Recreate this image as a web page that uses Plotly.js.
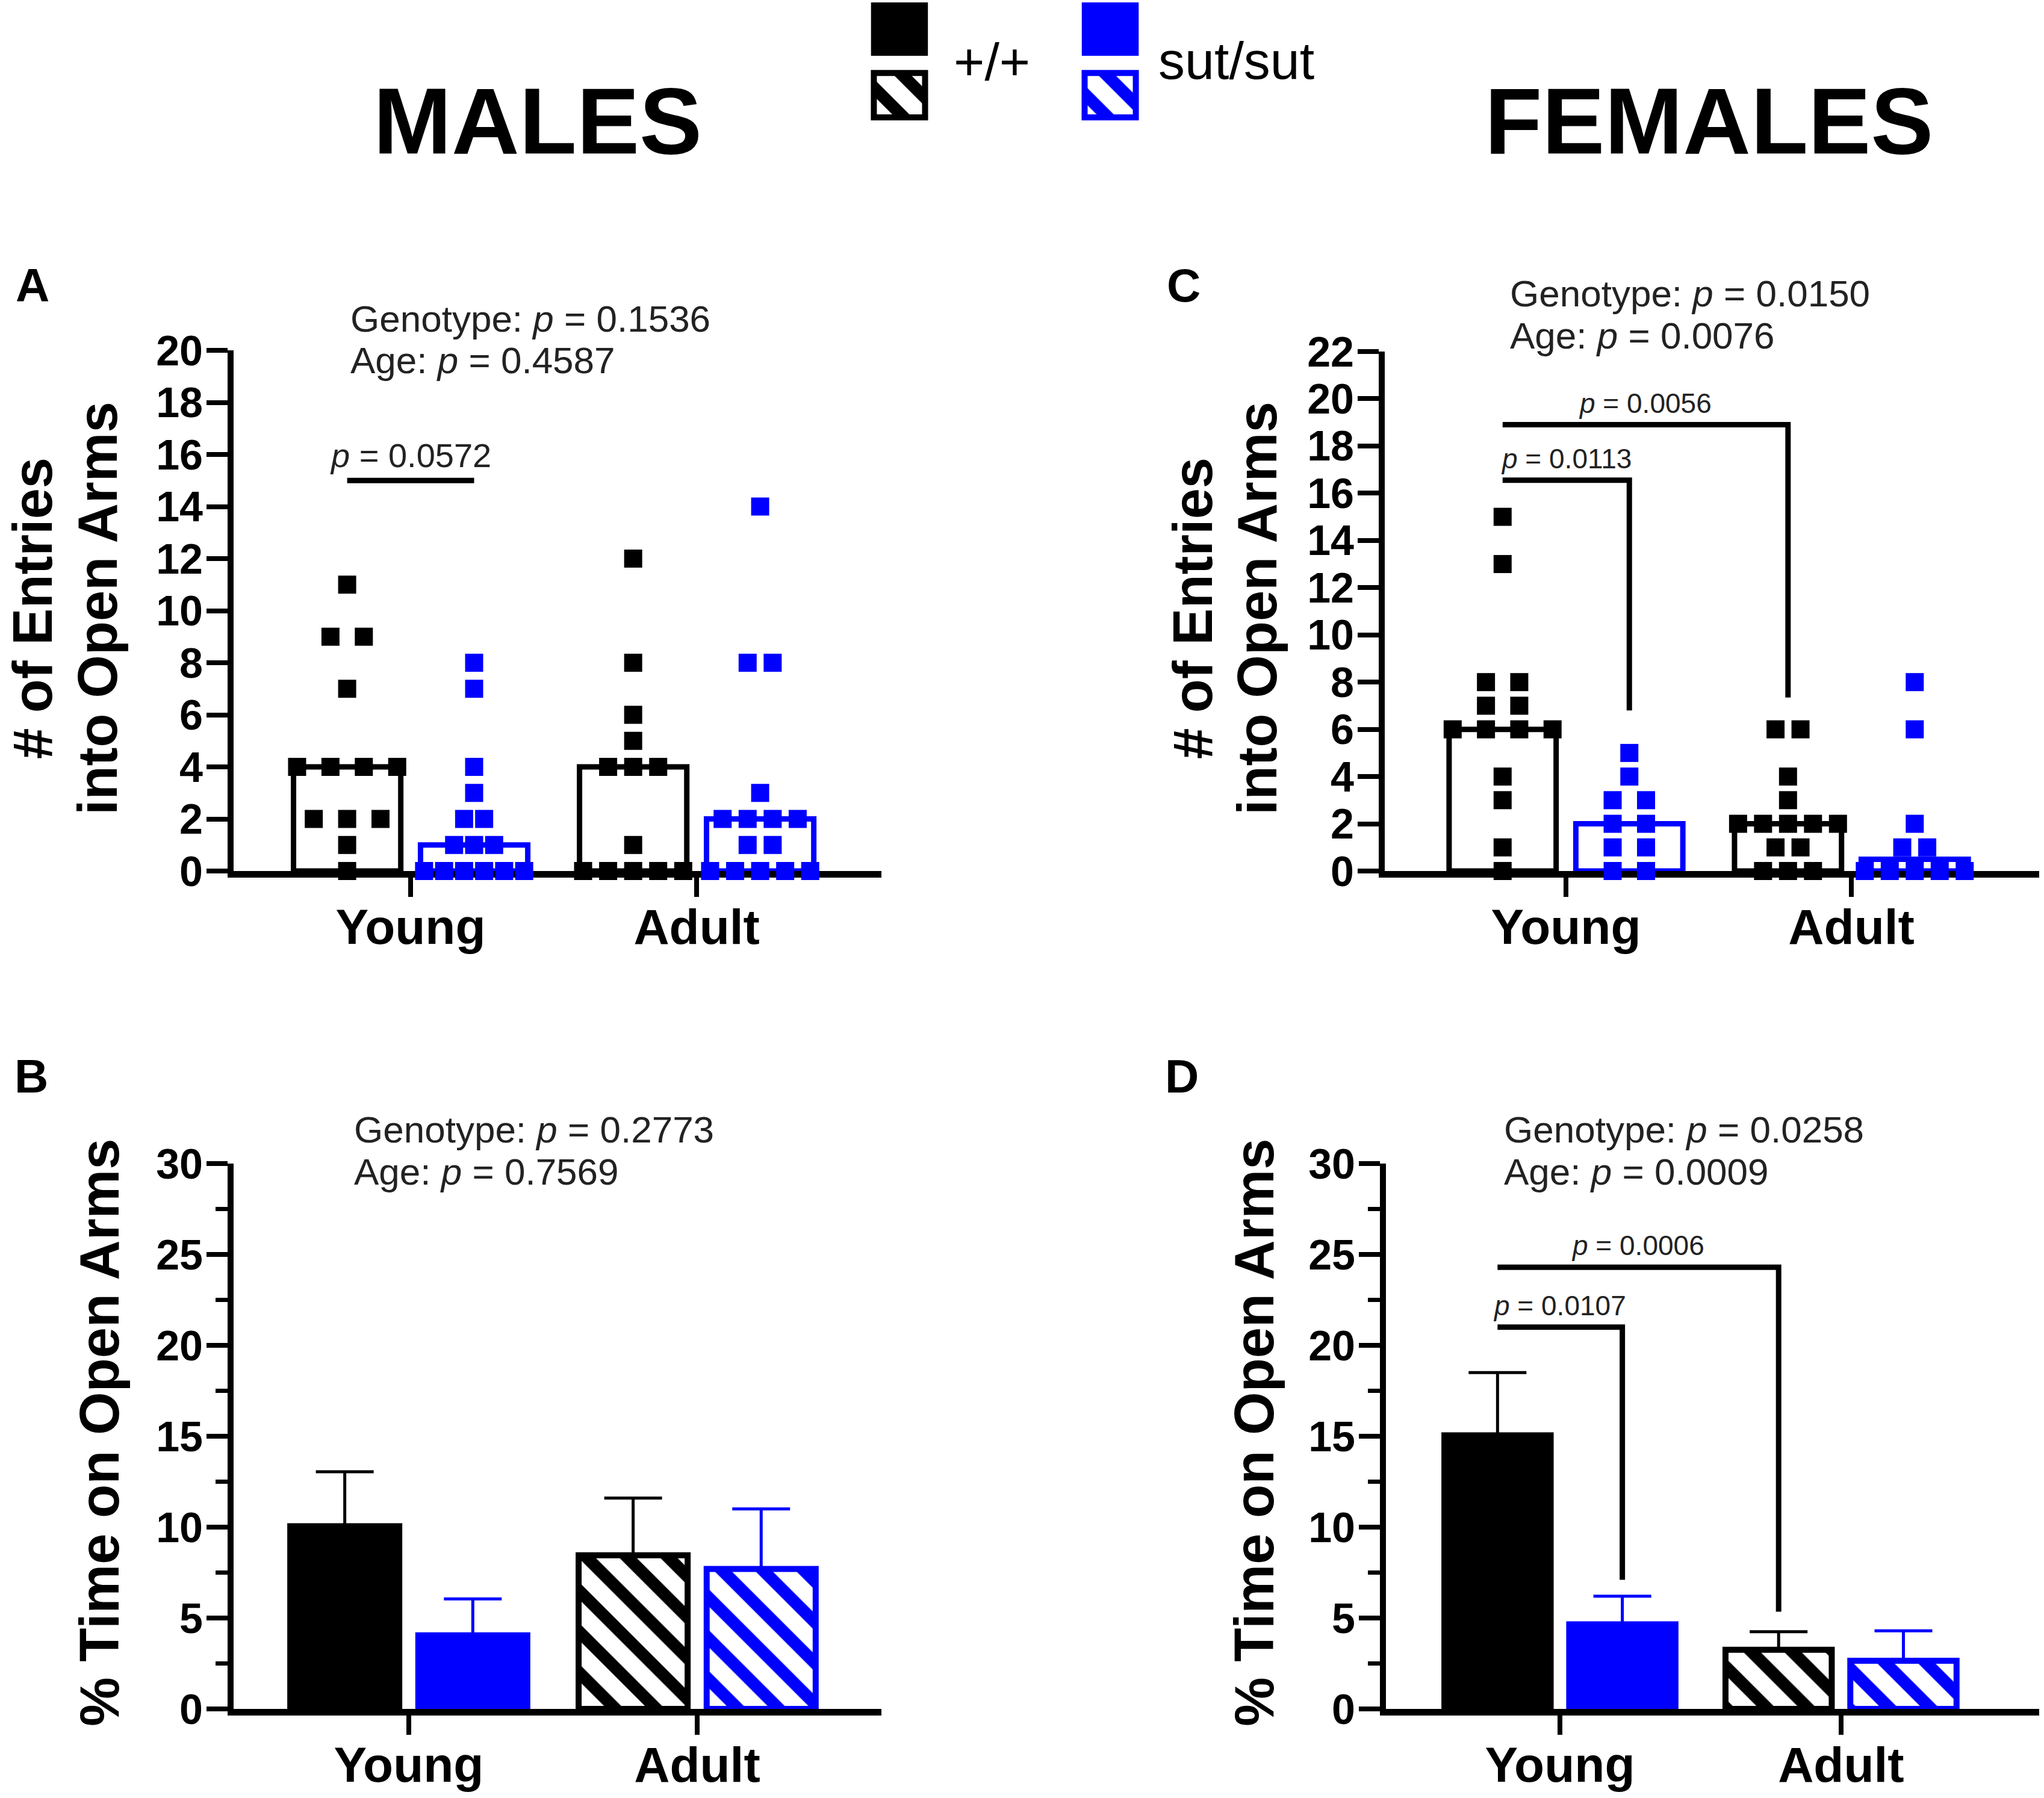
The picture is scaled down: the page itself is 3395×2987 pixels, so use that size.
<!DOCTYPE html>
<html><head><meta charset="utf-8">
<script src="https://cdn.plot.ly/plotly-3.0.1.min.js"></script>
<style>html,body{margin:0;padding:0;background:#fff}</style>
</head><body><div id="chart" style="width:3395px;height:2987px"></div>
<script>
// ---------------- DATA ----------------
const groups = ['Young', 'Adult'];
const genotypes = ['+/+', 'sut/sut'];

// Panel A: males, # of entries into open arms (individual animals)
const maleEntriesWT_Young  = [11, 9, 9, 7, 4, 4, 4, 4, 2, 2, 2, 1, 0];
const maleEntriesSut_Young = [8, 7, 4, 3, 2, 2, 1, 1, 1, 0, 0, 0, 0, 0, 0];
const maleEntriesWT_Adult  = [12, 8, 6, 5, 4, 4, 4, 1, 0, 0, 0, 0, 0];
const maleEntriesSut_Adult = [14, 8, 8, 3, 2, 2, 2, 2, 1, 1, 0, 0, 0, 0, 0];
const maleEntriesMedianWT  = [4, 4];
const maleEntriesMedianSut = [1, 2];

// Panel C: females, # of entries into open arms
const femaleEntriesWT_Young  = [15, 13, 8, 8, 7, 7, 6, 6, 6, 6, 4, 3, 1, 0];
const femaleEntriesSut_Young = [5, 4, 3, 3, 2, 2, 1, 1, 0, 0];
const femaleEntriesWT_Adult  = [6, 6, 4, 3, 2, 2, 2, 2, 2, 1, 1, 0, 0, 0];
const femaleEntriesSut_Adult = [8, 6, 2, 1, 1, 0, 0, 0, 0, 0];
const femaleEntriesMedianWT  = [6, 2];
const femaleEntriesMedianSut = [2, 0.5];

// Panel B: males, % time on open arms (mean, SEM)
const maleTimeMeanWT  = [10.05, 8.45];
const maleTimeSemWT   = [3.0, 3.15];
const maleTimeMeanSut = [4.05, 7.7];
const maleTimeSemSut  = [2.0, 3.3];

// Panel D: females, % time on open arms (mean, SEM)
const femaleTimeMeanWT  = [15.05, 3.25];
const femaleTimeSemWT   = [3.45, 1.0];
const femaleTimeMeanSut = [4.65, 2.65];
const femaleTimeSemSut  = [1.55, 1.65];

// ANOVA main effects
const statsA = {genotype: '0.1536', age: '0.4587'};
const statsB = {genotype: '0.2773', age: '0.7569'};
const statsC = {genotype: '0.0150', age: '0.0076'};
const statsD = {genotype: '0.0258', age: '0.0009'};

// Post-hoc comparisons: [group, genotype] -> [group, genotype], bracket level, drop end, p
const bracketsA = [{from: [0, 0], to: [0, 1], level: 15, end: null, p: '0.0572'}];
const bracketsC = [{from: [0, 0], to: [0, 1], level: 16.55, end: 6.8, p: '0.0113'},
                   {from: [0, 0], to: [1, 0], level: 18.9, end: 7.35, p: '0.0056'}];
const bracketsD = [{from: [0, 0], to: [0, 1], level: 21.0, end: 7.1, p: '0.0107'},
                   {from: [0, 0], to: [1, 0], level: 24.3, end: 5.35, p: '0.0006'}];

// ---------------- STYLE / LAYOUT ----------------
const W = 3395, H = 2987;
const FONT = 'Liberation Sans, Arial, Helvetica, sans-serif';
const COLORS = ['#000000', '#0000ff'];
const OFF = [-0.222, 0.222];
const fx = p => p / W;
const fy = p => 1 - p / H;

const traces = [];
const annotations = [];
const layout = {
  width: W, height: H,
  margin: {l: 0, r: 0, t: 0, b: 0},
  paper_bgcolor: '#ffffff', plot_bgcolor: '#ffffff',
  showlegend: false, barmode: 'overlay',
  font: {family: FONT, color: '#000'},
  annotations: annotations
};

function hatch(color) {
  return {shape: '\\', fgcolor: color, bgcolor: '#ffffff', fgopacity: 1,
          size: 48, solidity: 0.42, fillmode: 'overlay'};
}

function axisPair(n, xdom, xr, ydom, yr, dtick, minor) {
  const xk = n === 1 ? 'xaxis' : 'xaxis' + n;
  const yk = n === 1 ? 'yaxis' : 'yaxis' + n;
  const yid = n === 1 ? 'y' : 'y' + n;
  const xid = n === 1 ? 'x' : 'x' + n;
  layout[xk] = {
    domain: [fx(xdom[0]), fx(xdom[1])], range: xr, anchor: yid,
    showline: true, linewidth: 11, linecolor: '#000', layer: 'below traces',
    ticks: 'outside', ticklen: 32, tickwidth: 8, tickcolor: '#000',
    tickmode: 'array', tickvals: [0, 1], ticktext: groups,
    tickfont: {family: FONT, size: 82, color: '#000', weight: 'bold'},
    ticklabelstandoff: -20,
    showgrid: false, zeroline: false, fixedrange: true
  };
  const ya = {
    domain: [fy(ydom[1]), fy(ydom[0])], range: yr, anchor: xid,
    showline: true, linewidth: 10, linecolor: '#000', layer: 'below traces',
    ticks: 'outside', ticklen: 35, tickwidth: 8, tickcolor: '#000',
    tickmode: 'linear', tick0: 0, dtick: dtick,
    tickfont: {family: FONT, size: 70, color: '#000', weight: 'bold'},
    ticklabelstandoff: -8,
    showgrid: false, zeroline: false, fixedrange: true
  };
  if (minor) ya.minor = {tickmode: 'linear', tick0: 0, dtick: minor, ticks: 'outside',
                         ticklen: 20, tickwidth: 7, tickcolor: '#000', showgrid: false};
  layout[yk] = ya;
  return {x: xid, y: yid};
}

function swarmX(values, g, s) {
  const counts = {};
  values.forEach(v => counts[v] = (counts[v] || 0) + 1);
  const nmax = Math.max(...Object.values(counts));
  const spacing = nmax > 1 ? Math.min(0.117, 0.35 / (nmax - 1)) : 0.117;
  const seen = {};
  return values.map(v => {
    seen[v] = seen[v] === undefined ? 0 : seen[v] + 1;
    return g + OFF[s] + (seen[v] - (counts[v] - 1) / 2) * spacing;
  });
}

function entriesPanel(ax, medWT, medSut, ptsList, brackets, fsize) {
  [medWT, medSut].forEach((med, s) => {
    traces.push({type: 'bar', x: [0 + OFF[s], 1 + OFF[s]], y: med, width: 0.375,
      xaxis: ax.x, yaxis: ax.y, hoverinfo: 'skip',
      marker: {color: 'rgba(255,255,255,0)', line: {color: COLORS[s], width: 9}}});
  });
  ptsList.forEach(([vals, g, s]) => {
    traces.push({type: 'scatter', mode: 'markers', x: swarmX(vals, g, s), y: vals,
      xaxis: ax.x, yaxis: ax.y, cliponaxis: false, hoverinfo: 'skip',
      marker: {symbol: 'square', size: 30, color: COLORS[s], line: {width: 0}}});
  });
  addBrackets(ax, brackets, fsize);
}

function timePanel(ax, meanWT, semWT, meanSut, semSut) {
  [[meanWT, semWT], [meanSut, semSut]].forEach(([m, e], s) => {
    groups.forEach((gName, g) => {
      const marker = g === 0
        ? {color: COLORS[s], line: {color: COLORS[s], width: 10}}
        : {color: '#ffffff', line: {color: COLORS[s], width: 10}, pattern: hatch(COLORS[s])};
      traces.push({type: 'bar', x: [g + OFF[s]], y: [m[g]], width: 0.378,
        xaxis: ax.x, yaxis: ax.y, hoverinfo: 'skip', marker: marker,
        error_y: {type: 'data', symmetric: false, array: [e[g]], arrayminus: [0],
                  color: COLORS[s], thickness: 5, width: 48}});
    });
  });
}

function addBrackets(ax, brackets, fsize) {
  brackets.forEach(b => {
    const x1 = b.from[0] + OFF[b.from[1]];
    const x2 = b.to[0] + OFF[b.to[1]];
    const xs = b.end === null ? [x1, x2] : [x1, x2, x2];
    const ys = b.end === null ? [b.level, b.level] : [b.level, b.level, b.end];
    traces.push({type: 'scatter', mode: 'lines', x: xs, y: ys, xaxis: ax.x, yaxis: ax.y,
      hoverinfo: 'skip', line: {color: '#000', width: 9}});
    annotations.push({xref: ax.x, yref: ax.y, x: (x1 + x2) / 2, y: b.level,
      xanchor: 'center', yanchor: 'bottom', yshift: 8, showarrow: false,
      text: '<i>p</i> = ' + b.p, font: {family: FONT, size: fsize, color: '#222'}});
  });
}

function paperText(x, y, text, size, opts) {
  annotations.push(Object.assign({xref: 'paper', yref: 'paper', x: fx(x), y: fy(y),
    xanchor: 'center', yanchor: 'middle', showarrow: false, text: text,
    font: {family: FONT, size: size, color: '#000'}}, opts || {}));
}

function statsText(x, y1, y2, st) {
  const f = {family: FONT, size: 62, color: '#222'};
  paperText(x, y1, 'Genotype: <i>p</i> = ' + st.genotype, 62, {xanchor: 'left', font: f});
  paperText(x, y2, 'Age: <i>p</i> = ' + st.age, 62, {xanchor: 'left', font: f});
}

// ---------------- PANELS ----------------
const axA = axisPair(1, [388, 1464], [-0.619, 1.646], [582, 1447], [0, 20], 2);
const axB = axisPair(2, [388, 1464], [-0.6075, 1.639], [1933, 2839], [0, 30], 5, 2.5);
const axC = axisPair(3, [2300, 3387], [-0.635, 1.658], [584, 1447], [0, 22], 2);
const axD = axisPair(4, [2302, 3387], [-0.619, 1.705], [1933, 2839], [0, 30], 5, 2.5);

entriesPanel(axA, maleEntriesMedianWT, maleEntriesMedianSut,
  [[maleEntriesWT_Young, 0, 0], [maleEntriesSut_Young, 0, 1],
   [maleEntriesWT_Adult, 1, 0], [maleEntriesSut_Adult, 1, 1]], bracketsA, 56);
entriesPanel(axC, femaleEntriesMedianWT, femaleEntriesMedianSut,
  [[femaleEntriesWT_Young, 0, 0], [femaleEntriesSut_Young, 0, 1],
   [femaleEntriesWT_Adult, 1, 0], [femaleEntriesSut_Adult, 1, 1]], bracketsC, 46);
timePanel(axB, maleTimeMeanWT, maleTimeSemWT, maleTimeMeanSut, maleTimeSemSut);
timePanel(axD, femaleTimeMeanWT, femaleTimeSemWT, femaleTimeMeanSut, femaleTimeSemSut);
addBrackets(axD, bracketsD, 46);

// ---------------- LEGEND (mini axes) ----------------
layout.xaxis5 = {domain: [fx(1446), fx(1892)], range: [-0.137, 1.137], visible: false, fixedrange: true, anchor: 'y5'};
layout.yaxis5 = {domain: [fy(201), fy(4)], range: [0, 2], visible: false, fixedrange: true, anchor: 'x5'};
genotypes.forEach((gt, s) => {
  traces.push({type: 'bar', x: [s], y: [0.9], base: [1.1], width: 0.27, xaxis: 'x5', yaxis: 'y5',
    hoverinfo: 'skip', marker: {color: COLORS[s], line: {width: 0}}});
  traces.push({type: 'bar', x: [s], y: [0.75], base: [0.06], width: 0.243, xaxis: 'x5', yaxis: 'y5',
    hoverinfo: 'skip', marker: {color: '#ffffff', line: {color: COLORS[s], width: 10}, pattern: hatch(COLORS[s])}});
});
paperText(1582, 103, genotypes[0], 88, {xanchor: 'left'});
paperText(1922, 100, genotypes[1], 88, {xanchor: 'left'});

// ---------------- TEXT ----------------
paperText(893, 201, '<b>MALES</b>', 156);
paperText(2838, 201, '<b>FEMALES</b>', 156);
paperText(54, 474, '<b>A</b>', 78);
paperText(52, 1788, '<b>B</b>', 78);
paperText(1966, 474, '<b>C</b>', 78);
paperText(1963, 1788, '<b>D</b>', 78);

statsText(580, 530, 599, statsA);
statsText(586, 1876, 1946, statsB);
statsText(2506, 487, 558, statsC);
statsText(2496, 1876, 1946, statsD);

// y-axis titles
paperText(54, 1011, '<b># of Entries</b>', 92, {textangle: -90});
paperText(162, 1011, '<b>into Open Arms</b>', 92, {textangle: -90});
paperText(1981, 1011, '<b># of Entries</b>', 92, {textangle: -90});
paperText(2088, 1011, '<b>into Open Arms</b>', 92, {textangle: -90});
paperText(165, 2380, '<b>% Time on Open Arms</b>', 92, {textangle: -90});
paperText(2083, 2380, '<b>% Time on Open Arms</b>', 92, {textangle: -90});

Plotly.newPlot('chart', traces, layout, {displayModeBar: false, staticPlot: true});
</script></body></html>
